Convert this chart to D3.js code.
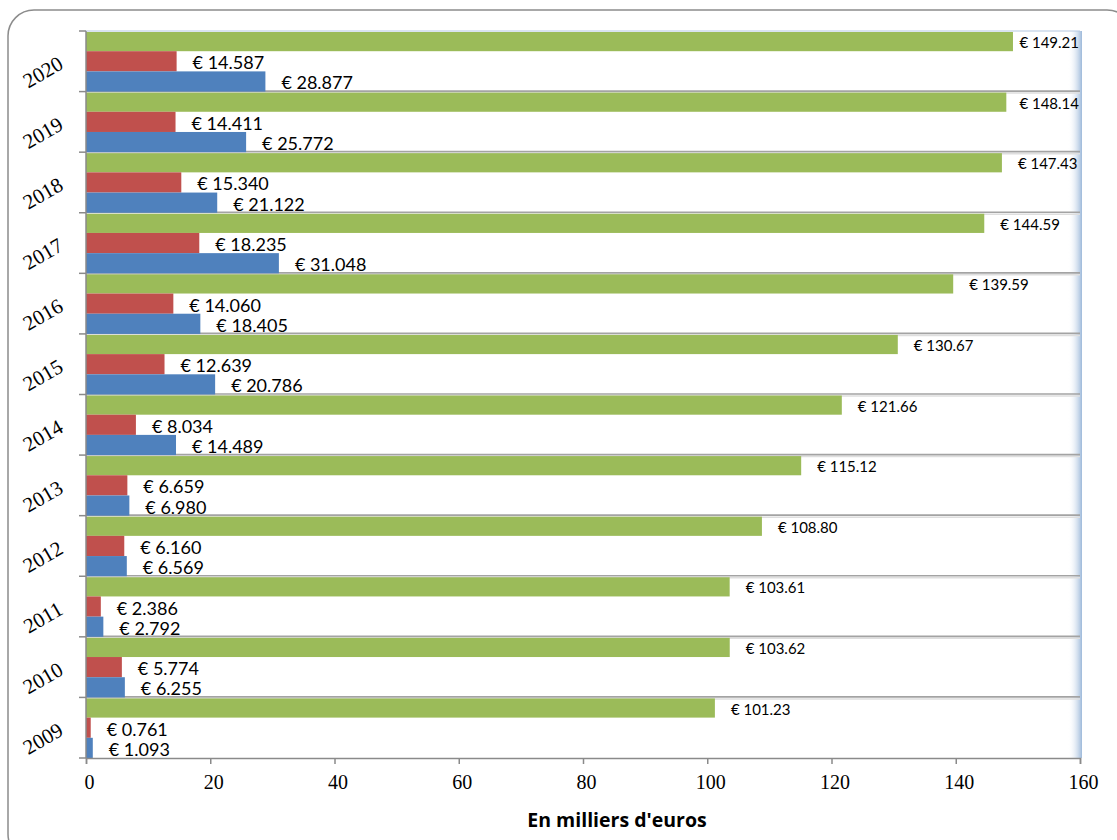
<!DOCTYPE html>
<html lang="fr">
<head>
  <meta charset="UTF-8">
  <title>En milliers d'euros</title>
  <style>
    body { margin: 0; background: #fff; }
    svg { display: block; }
  </style>
  <script src="https://d3js.org/d3.v7.min.js"></script>
</head>
<body>
  <svg></svg>
  <script>
    // data, bottom (2009) to top (2020)
    const years = ["2009", "2010", "2011", "2012", "2013", "2014", "2015", "2016", "2017", "2018", "2019", "2020"];
    const greenValues = [101.23, 103.62, 103.61, 108.80, 115.12, 121.66, 130.67, 139.59, 144.59, 147.43, 148.14, 149.21];
    const redValues = [0.761, 5.774, 2.386, 6.160, 6.659, 8.034, 12.639, 14.060, 18.235, 15.340, 14.411, 14.587];
    const blueValues = [1.093, 6.255, 2.792, 6.569, 6.980, 14.489, 20.786, 18.405, 31.048, 21.122, 25.772, 28.877];
    const xTicks = [0, 20, 40, 60, 80, 100, 120, 140, 160];
    const seriesNames = ["green", "red", "blue"];

    const width = 1117, height = 840;
    const margin = { top: 31, right: 37, bottom: 82, left: 86 };
    const colors = { green: "#9bbb59", red: "#c0504d", blue: "#4f81bd" };
    const serif = "'Liberation Serif', 'Times New Roman', serif";
    const sans = "Lato, 'Open Sans', sans-serif";

    const svg = d3.select("svg").attr("width", width).attr("height", height);

    // outer rounded frame
    svg.append("rect")
      .attr("x", 8).attr("y", 10)
      .attr("width", 1125).attr("height", 850)
      .attr("rx", 26)
      .attr("fill", "#fff")
      .attr("stroke", "#8c8c8c")
      .attr("stroke-width", 1.5);

    const x = d3.scaleLinear()
      .domain([0, 160])
      .range([margin.left, width - margin.right]);

    // top group is 2020
    const y = d3.scaleBand()
      .domain(years.slice().reverse())
      .range([margin.top, height - margin.bottom])
      .padding(0);

    const ySub = d3.scaleBand()
      .domain(seriesNames)
      .range([0, y.bandwidth()])
      .padding(0);

    const rows = years.map((yr, i) => ({
      year: yr,
      values: [
        { key: "green", v: greenValues[i], label: "€ " + d3.format(".2f")(greenValues[i]) },
        { key: "red", v: redValues[i], label: "€ " + d3.format(".3f")(redValues[i]) },
        { key: "blue", v: blueValues[i], label: "€ " + d3.format(".3f")(blueValues[i]) }
      ]
    }));

    // right edge blue shading
    const defs = svg.append("defs");
    const grad = defs.append("linearGradient").attr("id", "edge")
      .attr("x1", "0").attr("x2", "1").attr("y1", "0").attr("y2", "0");
    grad.append("stop").attr("offset", "0%").attr("stop-color", "#ffffff").attr("stop-opacity", 0);
    grad.append("stop").attr("offset", "100%").attr("stop-color", "#9db9da");
    svg.append("rect")
      .attr("x", x(160) - 12).attr("y", margin.top)
      .attr("width", 14).attr("height", height - margin.bottom - margin.top)
      .attr("fill", "url(#edge)");

    // horizontal gridlines at group boundaries
    const bounds = years.map(yr => y(yr)).filter(v => v > margin.top + 1);
    svg.append("g").selectAll("line")
      .data(bounds)
      .join("line")
      .attr("x1", x(0)).attr("x2", x(160))
      .attr("y1", d => d + 1.5).attr("y2", d => d + 1.5)
      .attr("stroke", "#dedede").attr("stroke-width", 1.5);
    svg.append("g").selectAll("line")
      .data(bounds)
      .join("line")
      .attr("x1", x(0)).attr("x2", x(160))
      .attr("y1", d => d - 0.5).attr("y2", d => d - 0.5)
      .attr("stroke", "#a3a3a3").attr("stroke-width", 1.6);

    // top edge
    svg.append("line")
      .attr("x1", x(0)).attr("x2", x(160))
      .attr("y1", margin.top).attr("y2", margin.top)
      .attr("stroke", "#b3c7e0").attr("stroke-width", 1);

    // bars
    const groups = svg.append("g").selectAll("g")
      .data(rows)
      .join("g")
      .attr("transform", d => `translate(0,${y(d.year)})`);

    groups.selectAll("rect")
      .data(d => d.values)
      .join("rect")
      .attr("x", x(0))
      .attr("y", d => ySub(d.key) + (d.key === "green" ? 1 : 0))
      .attr("width", d => x(d.v) - x(0))
      .attr("height", d => ySub.bandwidth() - (d.key === "green" ? 1 : 0))
      .attr("fill", d => colors[d.key]);

    // value labels
    groups.selectAll("text")
      .data(d => d.values)
      .join("text")
      .style("font-family", sans)
      .attr("font-size", d => d.key === "green" ? 15 : 18)
      .attr("fill", "#000")
      .attr("dominant-baseline", "central")
      .attr("y", d => ySub(d.key) + ySub.bandwidth() / 2 + 1)
      .text(d => d.label)
      .attr("x", function (d) {
        const w = this.getComputedTextLength();
        return Math.min(x(d.v) + 16, x(160) - w - 1);
      });

    // x axis
    const xAxis = svg.append("g")
      .attr("transform", `translate(0,${height - margin.bottom})`)
      .call(d3.axisBottom(x).tickValues(xTicks).tickSize(6).tickPadding(11).tickFormat(d3.format("d")));
    xAxis.select(".domain").attr("stroke", "#8a8a8a").attr("stroke-width", 1.5);
    xAxis.selectAll(".tick line").attr("stroke", "#8a8a8a").attr("stroke-width", 1.5);
    xAxis.selectAll(".tick text")
      .style("font-family", serif)
      .style("font-size", "20px")
      .attr("fill", "#000")
      .attr("dx", 3);

    // y axis: line + ticks at group boundaries, rotated year labels
    svg.append("line")
      .attr("x1", x(0)).attr("x2", x(0))
      .attr("y1", margin.top).attr("y2", height - margin.bottom)
      .attr("stroke", "#8a8a8a").attr("stroke-width", 1.5);
    const yTickPos = years.map(yr => y(yr)).concat([height - margin.bottom]);
    svg.append("g").selectAll("line")
      .data(yTickPos)
      .join("line")
      .attr("x1", x(0) - 7).attr("x2", x(0))
      .attr("y1", d => d).attr("y2", d => d)
      .attr("stroke", "#8a8a8a").attr("stroke-width", 1.5);

    svg.append("g").selectAll("text")
      .data(years)
      .join("text")
      .attr("transform", d => `translate(43,${y(d) + y.bandwidth() / 2 + 11}) rotate(-30)`)
      .attr("text-anchor", "middle")
      .attr("dominant-baseline", "central")
      .style("font-family", serif)
      .style("font-size", "21px")
      .attr("fill", "#000")
      .text(d => d);

    // axis title
    svg.append("text")
      .attr("x", 617).attr("y", 827)
      .attr("text-anchor", "middle")
      .style("font-family", "'Open Sans', Lato, sans-serif")
      .attr("font-weight", "bold")
      .attr("font-size", 19.5)
      .attr("fill", "#000")
      .text("En milliers d'euros");
  </script>
</body>
</html>
